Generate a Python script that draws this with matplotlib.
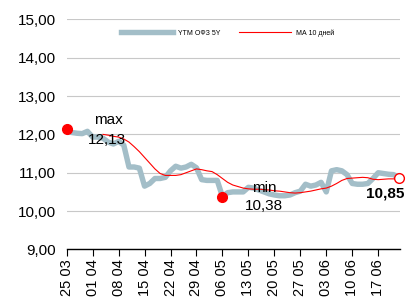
import numpy as np
import matplotlib
matplotlib.use("Agg")
import matplotlib.pyplot as plt

plt.rcParams['font.family'] = ['Liberation Sans', 'DejaVu Sans']

# trading-day tick labels (every 5th day)
tick_labels = ["25 03", "01 04", "08 04", "15 04", "22 04", "29 04", "06 05",
               "13 05", "20 05", "27 05", "03 06", "10 06", "17 06"]

# YTM OFZ 5Y, daily
ytm = [12.13, 12.05, 12.03, 12.02, 12.08, 11.93, 11.93, 11.90, 11.80, 11.75,
       11.82, 11.72, 11.15, 11.15, 11.12, 10.65, 10.72, 10.85, 10.85, 10.88,
       11.05, 11.17, 11.12, 11.15, 11.22, 11.13, 10.82, 10.80, 10.80, 10.80,
       10.38, 10.48, 10.50, 10.50, 10.50, 10.62, 10.60, 10.55, 10.50, 10.45,
       10.42, 10.40, 10.40, 10.42, 10.48, 10.52, 10.70, 10.65, 10.68, 10.75,
       10.50, 11.05, 11.08, 11.05, 10.95, 10.72, 10.70, 10.70, 10.72, 10.85,
       11.00, 10.98, 10.96, 10.95, 10.85]

# MA 10 days (starts at day 7)
ma_start = 7
ma10 = [12.00, 11.98, 11.95, 11.93, 11.88, 11.80, 11.68, 11.55, 11.40, 11.25,
        11.10, 10.98, 10.93, 10.93, 10.93, 10.95, 11.00, 11.05, 11.10, 11.08,
        11.05, 11.03, 10.95, 10.85, 10.75, 10.68, 10.64, 10.60, 10.58, 10.57,
        10.57, 10.56, 10.55, 10.53, 10.52, 10.50, 10.48, 10.47, 10.48, 10.50,
        10.52, 10.55, 10.58, 10.60, 10.65, 10.72, 10.80, 10.85, 10.86, 10.87,
        10.88, 10.87, 10.83, 10.82, 10.83, 10.84, 10.84, 10.85]

x = np.arange(len(ytm))
x_ma = np.arange(ma_start, ma_start + len(ma10))
i_max = int(np.argmax(ytm))
i_min = int(np.argmin(ytm))

fig = plt.figure(figsize=(4.09, 2.98), dpi=100)
ax = fig.add_axes([0.163, 0.163, 0.815, 0.772])

ax.plot(x, ytm, color="#a3bec8", lw=3.9, solid_joinstyle="round",
        label="YTM ОФЗ 5Y", zorder=2)
ax.plot(x_ma, ma10, color="#ff0000", lw=0.8, label="МА 10 дней", zorder=3)

ax.plot(i_max, ytm[i_max], "o", color="#ff0000", ms=7, clip_on=False, zorder=4)
ax.plot(i_min, ytm[i_min], "o", color="#ff0000", ms=7, clip_on=False, zorder=4)
ax.plot(x[-1], ytm[-1], "o", mfc="white", mec="#ff0000", mew=1.0, ms=7,
        clip_on=False, zorder=4)

ax.text(5.3, 12.38, "max", fontsize=11, va="center", ha="left")
ax.text(4.1, 11.85, "12,13", fontsize=11, va="center", ha="left")
ax.text(35.8, 10.60, "min", fontsize=11, va="center", ha="left")
ax.text(34.3, 10.13, "10,38", fontsize=11, va="center", ha="left")
ax.text(57.6, 10.46, "10,85", fontsize=11, fontweight="bold", va="center",
        ha="left", clip_on=False)

ax.set_ylim(9, 15)
ax.set_xlim(0, 64.2)
ax.set_yticks(np.arange(9, 16, 1))
ax.set_yticklabels(["9,00", "10,00", "11,00", "12,00", "13,00", "14,00", "15,00"])
ax.set_xticks(np.arange(0, 5 * len(tick_labels), 5))
ax.set_xticklabels(tick_labels, rotation=90)
ax.tick_params(axis="y", length=0, labelsize=11, pad=8)
ax.tick_params(axis="x", length=5, width=0.8, labelsize=10.5, pad=2, direction="out")

ax.grid(axis="y", color="#c8c8c8", lw=0.8)
ax.set_axisbelow(True)
for s in ["top", "right", "left"]:
    ax.spines[s].set_visible(False)
ax.spines["bottom"].set_linewidth(1.0)

ax.legend(loc="upper center", bbox_to_anchor=(0.482, 0.985), ncol=2, frameon=False,
          fontsize=5, handlelength=7.5, columnspacing=2.7, handletextpad=0.7)

fig.savefig("out.png", dpi=100)
